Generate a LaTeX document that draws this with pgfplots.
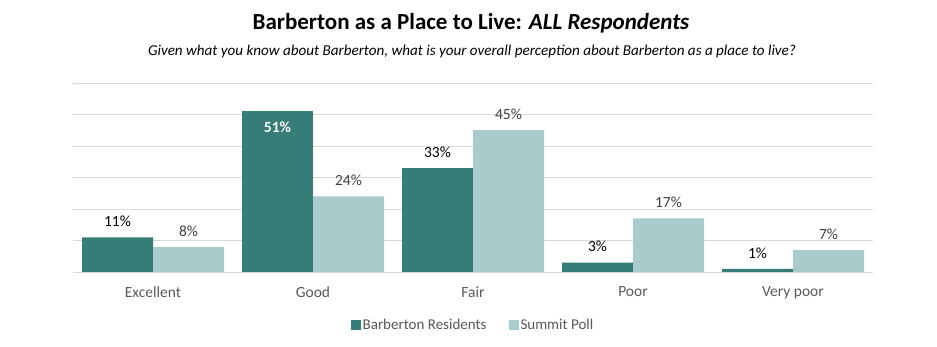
\documentclass[border=0pt]{standalone}
\usepackage{pgfplots}
\pgfplotsset{compat=1.18}
\usepackage{fontspec}
\setmainfont{Carlito}
\definecolor{darkteal}{HTML}{367C77}
\definecolor{lightteal}{HTML}{A9CBCB}
\definecolor{txtgray}{HTML}{595959}
\definecolor{lblgray}{HTML}{404040}
\definecolor{gridgray}{HTML}{D9D9D9}
\begin{document}
\begin{tikzpicture}[x=1pt,y=1pt]
\useasboundingbox (0,0) rectangle (937,347);
\node[font=\fontsize{23}{26}\selectfont\bfseries] at (471,324) {Barberton as a Place to Live: \textit{ALL Respondents}};
\node[font=\fontsize{15.1}{18}\selectfont\itshape] at (472,296) {Given what you know about Barberton, what is your overall perception about Barberton as a place to live?};
\begin{axis}[
  at={(73pt,75pt)}, anchor=south west,
  scale only axis, width=800pt, height=189pt,
  xmin=-0.5, xmax=4.5, ymin=0, ymax=60,
  axis line style={draw=none},
  major tick length=0pt,
  ymajorgrids, ytick={0,10,...,60},
  grid style={gridgray, line width=0.8pt},
  xtick={0,1,2,3,4},
  xticklabels={Excellent,Good,Fair,Poor,Very poor},
  ticklabel style={font=\fontsize{15.5}{18}\selectfont, text=txtgray},
  xticklabel style={yshift=-11pt},
  yticklabels={},
  /pgf/number format/assume math mode=true,
  ybar, bar width=71pt,
  nodes near coords={\pgfmathprintnumber{\pgfplotspointmeta}\%},
  every node near coord/.append style={font=\fontsize{15.5}{18}\selectfont, yshift=7pt},
  legend style={at={(0.5,-0.28)}, anchor=center, draw=none, legend columns=2,
    font=\fontsize{15}{18}\selectfont, text=txtgray,
    /tikz/every even column/.append style={column sep=20pt}},
  legend image code/.code={\fill[#1] (0pt,-5pt) rectangle (10pt,5pt);},
]
\addplot[fill=darkteal, draw=none, bar shift=-35.5pt, every node near coord/.append style={text=black}]
  coordinates {(0,11) (2,33) (3,3) (4,1)};
\addlegendentry{Barberton Residents}
\addplot[fill=lightteal, draw=none, bar shift=35.5pt, every node near coord/.append style={text=lblgray}]
  coordinates {(0,8) (1,24) (2,45) (3,17) (4,7)};
\addlegendentry{Summit Poll}
\addplot[fill=darkteal, draw=none, bar shift=-35.5pt, forget plot,
  every node near coord/.append style={text=white, font=\fontsize{15.5}{18}\selectfont\bfseries, anchor=north, yshift=-14pt}]
  coordinates {(1,51)};
\end{axis}
\end{tikzpicture}
\end{document}
